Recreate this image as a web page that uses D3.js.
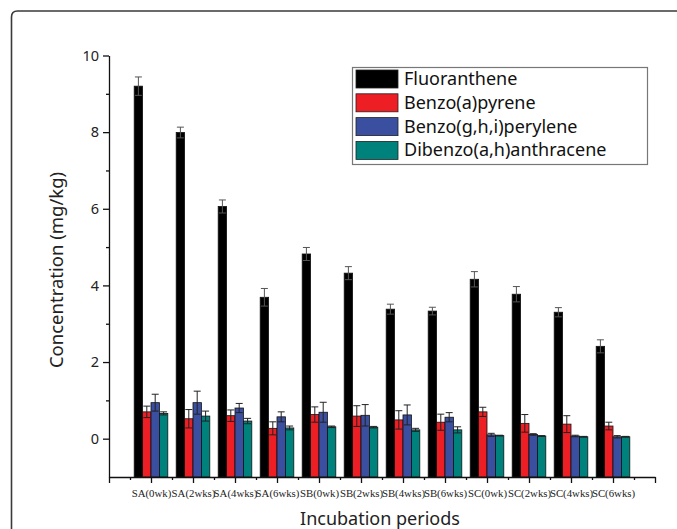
<!DOCTYPE html>
<html><head><meta charset="utf-8">
<script src="https://cdn.jsdelivr.net/npm/d3@7/dist/d3.min.js"></script>
<style>body{margin:0;background:#fff}svg{display:block}</style>
</head><body>
<svg id="c" width="677" height="529"></svg>
<script>
const categories = ["SA(0wk)","SA(2wks)","SA(4wks)","SA(6wks)","SB(0wk)","SB(2wks)","SB(4wks)","SB(6wks)","SC(0wk)","SC(2wks)","SC(4wks)","SC(6wks)"];
const seriesNames = ["Fluoranthene","Benzo(a)pyrene","Benzo(g,h,i)perylene","Dibenzo(a,h)anthracene"];
const fluoranthene = [9.20, 7.99, 6.06, 3.69, 4.82, 4.32, 3.38, 3.33, 4.16, 3.77, 3.30, 2.41];
const fluorErr     = [0.24, 0.14, 0.17, 0.23, 0.17, 0.17, 0.13, 0.10, 0.20, 0.20, 0.12, 0.17];
const bap          = [0.70, 0.52, 0.60, 0.27, 0.63, 0.59, 0.49, 0.43, 0.70, 0.40, 0.38, 0.33];
const bapErr       = [0.15, 0.24, 0.15, 0.17, 0.20, 0.27, 0.24, 0.21, 0.12, 0.23, 0.22, 0.10];
const bghi         = [0.94, 0.94, 0.80, 0.57, 0.69, 0.61, 0.62, 0.56, 0.10, 0.11, 0.07, 0.05];
const bghiErr      = [0.22, 0.30, 0.12, 0.13, 0.26, 0.28, 0.26, 0.12, 0.04, 0.02, 0.02, 0.03];
const dba          = [0.66, 0.59, 0.46, 0.28, 0.31, 0.30, 0.23, 0.23, 0.08, 0.07, 0.05, 0.05];
const dbaErr       = [0.04, 0.13, 0.07, 0.05, 0.02, 0.02, 0.04, 0.08, 0.01, 0.01, 0.01, 0.01];
const yMajorTicks = [0, 2, 4, 6, 8, 10];
const yMinorTicks = [1, 3, 5, 7, 9];
const colors = ["#000000", "#ed1f24", "#3b4fa1", "#00827c"];

const values = [fluoranthene, bap, bghi, dba];
const errors = [fluorErr, bapErr, bghiErr, dbaErr];

const svg = d3.select("#c");
const x = d3.scaleLinear().domain([0, 13]).range([109, 655]);
const y = d3.scaleLinear().domain([-1, 10]).range([477, 55.5]);
const bw = x(0.2) - x(0);

// frame
svg.append("path")
  .attr("d", "M11.5,529 L11.5,17 Q11.5,11 17.5,11 L677,11")
  .attr("fill", "none").attr("stroke", "#3a3a3a").attr("stroke-width", 1.6);

// bars
const g = svg.append("g");
values.forEach((vals, j) => {
  g.selectAll(null).data(vals).enter().append("rect")
    .attr("x", (d, i) => x(i + 1) + (j - 2) * bw)
    .attr("width", bw)
    .attr("y", d => y(d))
    .attr("height", d => y(-1) - y(d))
    .attr("fill", colors[j])
    .attr("stroke", "#111").attr("stroke-width", 0.8);
});
// error bars
values.forEach((vals, j) => {
  const errs = errors[j];
  const cx = i => x(i + 1) + (j - 2) * bw + bw / 2;
  const cw = 3.5;
  const eg = g.append("g").attr("stroke", j === 0 ? "#555" : "#222").attr("stroke-width", 1).attr("fill", "none");
  vals.forEach((v, i) => {
    const e = errs[i];
    eg.append("path").attr("d",
      `M${cx(i)},${y(v - e)}V${y(v + e)}` +
      `M${cx(i) - cw},${y(v + e)}H${cx(i) + cw}` +
      `M${cx(i) - cw},${y(v - e)}H${cx(i) + cw}`);
  });
});

// y axis
const yAxis = svg.append("g").attr("transform", `translate(${x(0)},0)`);
yAxis.call(d3.axisLeft(y).tickValues(yMajorTicks).tickSize(6).tickSizeOuter(0).tickFormat(d3.format("d")));
svg.append("g").attr("transform", `translate(${x(0)},0)`)
  .call(d3.axisLeft(y).tickValues(yMinorTicks).tickSize(3).tickSizeOuter(0).tickFormat(""))
  .select(".domain").remove();
yAxis.selectAll("text").attr("font-family", "Noto Sans, sans-serif").attr("font-size", 14.5).attr("fill", "#222").attr("dx", "-1");

// x axis
const xMajor = d3.range(0, 14);
const xMinor = d3.range(0, 13).map(d => d + 0.5);
const xAxis = svg.append("g").attr("transform", `translate(0,${y(-1)})`);
xAxis.call(d3.axisBottom(x).tickValues(xMajor).tickSize(6).tickSizeOuter(0)
  .tickFormat(d => (d >= 1 && d <= 12) ? categories[d - 1] : ""));
svg.append("g").attr("transform", `translate(0,${y(-1)})`)
  .call(d3.axisBottom(x).tickValues(xMinor).tickSize(3).tickSizeOuter(0).tickFormat(""))
  .select(".domain").remove();
xAxis.selectAll("text").attr("font-family", "Liberation Serif, serif").attr("font-size", 10.8).attr("fill", "#222").attr("dy", "1.05em");
svg.selectAll(".tick line, .domain").attr("stroke", "#111").attr("stroke-width", 1.3);

// axis titles
svg.append("text").attr("x", 380).attr("y", 525).attr("text-anchor", "middle")
  .attr("font-family", "Noto Sans, sans-serif").attr("font-size", 18).attr("fill", "#222")
  .text("Incubation periods");
svg.append("text").attr("transform", "translate(63,270) rotate(-90)").attr("text-anchor", "middle")
  .attr("font-family", "Noto Sans, sans-serif").attr("font-size", 18.5).attr("fill", "#222")
  .text("Concentration (mg/kg)");

// legend
const lg = svg.append("g");
lg.append("rect").attr("x", 352.5).attr("y", 67.5).attr("width", 295).attr("height", 97)
  .attr("fill", "#fff").attr("stroke", "#777").attr("stroke-width", 1.2);
seriesNames.forEach((n, j) => {
  const yy = 70 + j * 23.8;
  lg.append("rect").attr("x", 356).attr("y", yy).attr("width", 42).attr("height", 18)
    .attr("fill", colors[j]).attr("stroke", "#222").attr("stroke-width", 0.8);
  lg.append("text").attr("x", 404).attr("y", yy + 15).attr("font-family", "Noto Sans, sans-serif")
    .attr("font-size", 18).attr("fill", "#111").text(n);
});
</script>
</body></html>
